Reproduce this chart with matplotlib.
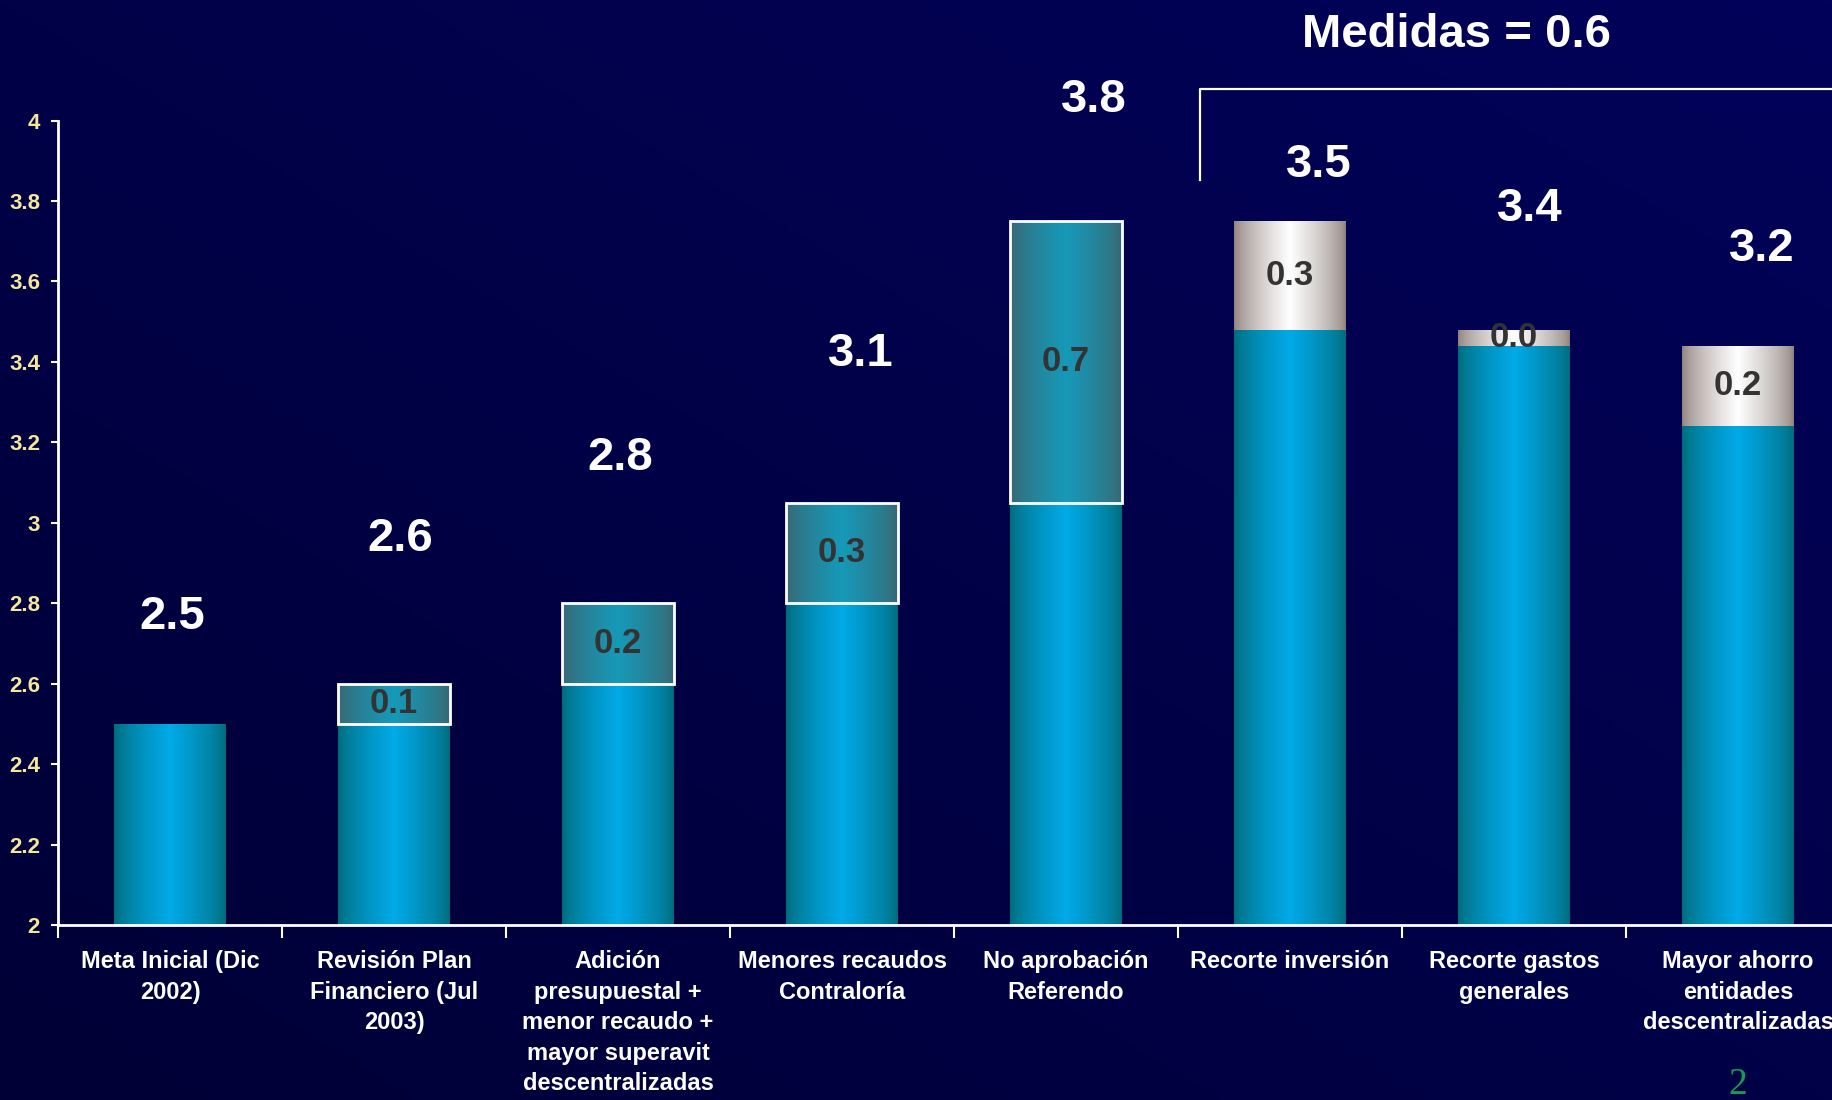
import numpy as np
import matplotlib.pyplot as plt
import matplotlib.colors as mcolors

plt.rcParams['font.family'] = ['Liberation Sans', 'DejaVu Sans']

# datos del grafico (cascada)
categorias = ['Meta Inicial (Dic\n2002)', 'Revisión Plan\nFinanciero (Jul\n2003)',
              'Adición\npresupuestal +\nmenor recaudo +\nmayor superavit\ndescentralizadas',
              'Menores recaudos\nContraloría', 'No aprobación\nReferendo', 'Recorte inversión',
              'Recorte gastos\ngenerales', 'Mayor ahorro\nentidades\ndescentralizadas']
base = [2.5, 2.5, 2.6, 2.8, 3.05, 3.48, 3.44, 3.24]
delta = [0.0, 0.1, 0.2, 0.25, 0.7, 0.27, 0.04, 0.2]
tipo = ['ninguno', 'aumento', 'aumento', 'aumento', 'aumento', 'medida', 'medida', 'medida']
etiqueta_total = ['2.5', '2.6', '2.8', '3.1', '3.8', '3.5', '3.4', '3.2']
etiqueta_delta = ['', '0.1', '0.2', '0.3', '0.7', '0.3', '0.0', '0.2']
titulo_medidas = 'Medidas = 0.6'
yticks = [2, 2.2, 2.4, 2.6, 2.8, 3, 3.2, 3.4, 3.6, 3.8, 4]

# desplazamientos manuales de las etiquetas de total (x en categorias, y en unidades)
off_x = [0.01, 0.03, 0.01, 0.085, 0.125, 0.13, 0.07, 0.105]
off_y = [0.265, 0.36, 0.36, 0.37, 0.30, 0.14, 0.30, 0.24]

YMIN, YMAX = 2, 4


def gradiente(c_borde, c_centro, n=200, gamma=0.7):
    t = np.linspace(0, 1, n)
    w = (1 - np.abs(2 * t - 1)) ** gamma
    a = np.array(mcolors.to_rgb(c_borde))
    b = np.array(mcolors.to_rgb(c_centro))
    return (a[None, :] * (1 - w[:, None]) + b[None, :] * w[:, None])[None, :, :]


def rellenar(ax, barras, img):
    for b in barras:
        x0, y0 = b.get_x(), b.get_y()
        w, h = b.get_width(), b.get_height()
        y1 = y0 + h
        y0 = max(y0, YMIN)
        if y1 <= y0:
            continue
        im = ax.imshow(img, extent=[x0, x0 + w, y0, y1], aspect='auto',
                       interpolation='bilinear', zorder=b.get_zorder() - 0.1)
        im.set_clip_path(b)


fig = plt.figure(figsize=(18.32, 11), dpi=100)

# fondo azul oscuro con degradado
bg = fig.add_axes([0, 0, 1, 1], zorder=-5)
yy, xx = np.mgrid[0:1:200j, 0:1:200j]
tt = (xx + (1 - yy)) / 2
c1 = np.array(mcolors.to_rgb('#000036'))
c2 = np.array(mcolors.to_rgb('#02025a'))
bg.imshow(c1 * (1 - tt[..., None]) + c2 * tt[..., None], extent=[0, 1, 0, 1], aspect='auto', origin='upper')
bg.axis('off')

ax = fig.add_axes([58 / 1832, 175 / 1100, 1792 / 1832, 804.5 / 1100])
ax.set_facecolor('none')
x = np.arange(len(categorias))
ancho = 0.5

azul = ax.bar(x, base, width=ancho, color='none', edgecolor='none', zorder=2)
rellenar(ax, azul, gradiente('#006a78', '#00aae8'))

for i in range(len(categorias)):
    if tipo[i] == 'aumento':
        b = ax.bar(x[i], delta[i], bottom=base[i], width=ancho, color='none',
                   edgecolor='white', linewidth=2, zorder=3)
        rellenar(ax, b, gradiente('#3b6670', '#1699b8'))
    elif tipo[i] == 'medida':
        b = ax.bar(x[i], delta[i], bottom=base[i], width=ancho, color='none',
                   edgecolor='none', zorder=3)
        rellenar(ax, b, gradiente('#8e817c', '#ffffff'))
    if etiqueta_delta[i]:
        ax.text(x[i], base[i] + delta[i] / 2, etiqueta_delta[i], ha='center', va='center',
                fontsize=25, fontweight='bold', color='#333333', zorder=5)
    ax.text(x[i] + off_x[i], base[i] + delta[i] + off_y[i], etiqueta_total[i], ha='center',
            va='center', fontsize=34, fontweight='bold', color='white', clip_on=False, zorder=5)

# corchete de medidas
ax.plot([4.6, 4.6, 7.6], [3.852, 4.079, 4.079], color='white', lw=1.6, clip_on=False, zorder=4)
ax.text(5.745, 4.212, titulo_medidas, ha='center', va='center', fontsize=34,
        fontweight='bold', color='white', clip_on=False)

ax.set_xlim(-0.5, len(categorias) - 0.5)
ax.set_ylim(YMIN, YMAX)
ax.set_yticks(yticks)
ax.set_yticklabels([f'{v:g}' for v in yticks])
ax.tick_params(axis='y', colors='white', labelcolor='#f5e79a', labelsize=16, length=5,
               width=1.5, pad=8)
for lb in ax.get_yticklabels():
    lb.set_fontweight('bold')

ax.set_xticks(np.arange(-0.5, len(categorias), 1))
ax.set_xticklabels([])
ax.set_xticks(x, minor=True)
ax.set_xticklabels(categorias, minor=True, fontsize=17, fontweight='bold', color='white',
                   linespacing=1.42)
ax.tick_params(axis='x', which='major', colors='white', length=9, width=1.5)
ax.tick_params(axis='x', which='minor', length=0, pad=18)

for s in ['top', 'right']:
    ax.spines[s].set_visible(False)
for s in ['left', 'bottom']:
    ax.spines[s].set_color('white')
    ax.spines[s].set_linewidth(2)

fig.text(1738 / 1832, 1 - 1085 / 1100, '2', ha='center', va='center', fontsize=27,
         color='#10a050', family=['Liberation Serif', 'DejaVu Serif'])

plt.savefig('out.png', dpi=100, facecolor=fig.get_facecolor())
